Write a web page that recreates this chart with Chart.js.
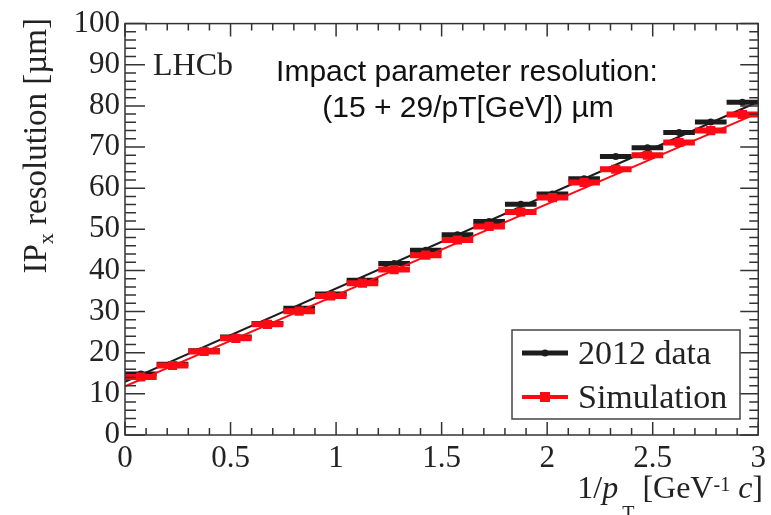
<!DOCTYPE html>
<html>
<head>
<meta charset="utf-8">
<script src="https://cdn.jsdelivr.net/npm/chart.js@4/dist/chart.umd.min.js"></script>
<style>
  html, body { margin: 0; padding: 0; background: #fff; }
  #wrap { width: 771px; height: 515px; }
</style>
</head>
<body>
<div id="wrap"><canvas id="c"></canvas></div>
<script>
// bin centres in 1/pT [GeV^-1 c], half bin width 0.075
const BIN_CENTERS = [0.075, 0.225, 0.375, 0.525, 0.675, 0.825, 0.975, 1.125, 1.275, 1.425,
                     1.575, 1.725, 1.875, 2.025, 2.175, 2.325, 2.475, 2.625, 2.775, 2.925];
const BIN_HALF = [0.075, 0.075, 0.075, 0.075, 0.075, 0.075, 0.075, 0.075, 0.075, 0.075,
                  0.075, 0.075, 0.075, 0.075, 0.075, 0.075, 0.075, 0.075, 0.075, 0.075];
const DATA_2012 = [14.8, 17.2, 20.5, 23.8, 27.1, 30.8, 34.3, 37.6, 41.7, 44.9,
                   48.7, 51.9, 56.1, 58.6, 62.3, 67.7, 69.8, 73.5, 76.1, 80.9];
const SIMULATION = [14.1, 16.9, 20.3, 23.5, 26.9, 30.1, 33.8, 36.9, 40.2, 43.7,
                    47.4, 50.7, 54.2, 57.7, 61.4, 64.6, 68.0, 71.1, 74.0, 77.9];
// straight-line fits, evaluated at the axis ends
const FIT_X = [0, 3];
const FIT_2012 = [12.9, 81.0];
const FIT_SIM = [11.8, 78.3];
const SERIES_LABELS = ['2012 data', 'Simulation'];
const X_TICKS = [0, 0.5, 1, 1.5, 2, 2.5, 3];
const Y_TICKS = [0, 10, 20, 30, 40, 50, 60, 70, 80, 90, 100];

const BLACK = '#1c1c1c';
const RED = '#ff0a14';
const SERIF = '"Liberation Serif", "DejaVu Serif", serif';
const SANS = '"Liberation Sans", Arial, sans-serif';

function points(ys) {
  return BIN_CENTERS.map((x, i) => ({ x: x, y: ys[i] }));
}

// horizontal error bars: a segment per bin, separated by gaps
function errBars(ys) {
  const out = [];
  BIN_CENTERS.forEach((x, i) => {
    out.push({ x: x - BIN_HALF[i], y: ys[i] });
    out.push({ x: x + BIN_HALF[i], y: ys[i] });
    out.push({ x: x, y: null });
  });
  return out;
}

function fitLine(ys) {
  return FIT_X.map((x, i) => ({ x: x, y: ys[i] }));
}

function drawRuns(ctx, runs, x, y, align) {
  let w = 0;
  runs.forEach(r => { ctx.font = r.font; w += ctx.measureText(r.t).width; });
  let cx = align === 'right' ? x - w : (align === 'center' ? x - w / 2 : x);
  ctx.textAlign = 'left';
  ctx.textBaseline = 'alphabetic';
  runs.forEach(r => {
    ctx.font = r.font;
    ctx.fillText(r.t, cx, y + (r.dy || 0));
    cx += ctx.measureText(r.t).width;
  });
}

const rootDecor = {
  id: 'rootDecor',
  afterDraw(chart) {
    const { ctx, chartArea: a, scales: { x, y } } = chart;
    ctx.save();
    // frame
    ctx.strokeStyle = '#333';
    ctx.lineWidth = 1.5;
    ctx.strokeRect(a.left, a.top, a.right - a.left, a.bottom - a.top);
    // inward ticks on all four sides
    ctx.beginPath();
    for (let i = 0; i <= 30; i++) {
      const px = x.getPixelForValue(i / 10);
      const len = i % 5 === 0 ? 13 : 7;
      ctx.moveTo(px, a.bottom); ctx.lineTo(px, a.bottom - len);
      ctx.moveTo(px, a.top); ctx.lineTo(px, a.top + len);
    }
    for (let i = 0; i <= 50; i++) {
      const py = y.getPixelForValue(i * 2);
      const major = i % 5 === 0;
      ctx.moveTo(a.left, py); ctx.lineTo(a.left + (major ? 20 : 11), py);
      ctx.moveTo(a.right, py); ctx.lineTo(a.right - (major ? 18 : 9), py);
    }
    ctx.stroke();

    // axis titles
    ctx.fillStyle = '#222';
    ctx.save();
    ctx.translate(46, 18);
    ctx.rotate(-Math.PI / 2);
    drawRuns(ctx, [
      { t: 'IP', font: '33px ' + SERIF },
      { t: 'x', font: '22px ' + SERIF, dy: 7 },
      { t: ' resolution [\u00b5m]', font: '33px ' + SERIF }
    ], 0, 0, 'right');
    ctx.restore();
    drawRuns(ctx, [
      { t: '1/', font: '32px ' + SERIF },
      { t: 'p', font: 'italic 32px ' + SERIF },
      { t: ' ', font: '16px ' + SERIF },
      { t: 'T', font: '20px ' + SERIF, dy: 22 },
      { t: ' [GeV', font: '32px ' + SERIF },
      { t: '-1', font: '20px ' + SERIF, dy: -7 },
      { t: ' ', font: '32px ' + SERIF },
      { t: 'c', font: 'italic 32px ' + SERIF },
      { t: ']', font: '32px ' + SERIF }
    ], 763, 498, 'right');

    // labels inside the frame
    drawRuns(ctx, [{ t: 'LHCb', font: '32px ' + SERIF }], 153, 75, 'left');
    ctx.fillStyle = '#111';
    drawRuns(ctx, [{ t: 'Impact parameter resolution:', font: '30px ' + SANS }], 467, 81, 'center');
    drawRuns(ctx, [{ t: '(15 + 29/pT[GeV]) \u00b5m', font: '30px ' + SANS }], 468, 117, 'center');

    // legend box
    ctx.fillStyle = '#fff';
    ctx.fillRect(512, 330, 228, 89);
    ctx.strokeStyle = '#444';
    ctx.lineWidth = 1.5;
    ctx.strokeRect(512, 330, 228, 89);
    const rows = [
      { label: SERIES_LABELS[0], color: BLACK, y: 353, w: 5, mark: 'circle' },
      { label: SERIES_LABELS[1], color: RED, y: 397, w: 4, mark: 'rect' }
    ];
    rows.forEach(r => {
      ctx.strokeStyle = r.color;
      ctx.lineWidth = r.w;
      ctx.beginPath(); ctx.moveTo(522, r.y); ctx.lineTo(568, r.y); ctx.stroke();
      ctx.fillStyle = r.color;
      if (r.mark === 'circle') {
        ctx.beginPath(); ctx.arc(545, r.y, 3.5, 0, Math.PI * 2); ctx.fill();
      } else {
        ctx.fillRect(540, r.y - 5, 10, 10);
      }
      ctx.fillStyle = '#222';
      drawRuns(ctx, [{ t: r.label, font: '34px ' + SERIF }], 578, r.y + 11, 'left');
    });
    ctx.restore();
  }
};

new Chart(document.getElementById('c'), {
  type: 'scatter',
  data: {
    datasets: [
      { label: SERIES_LABELS[1], data: points(SIMULATION), showLine: false, pointStyle: 'rect',
        pointRadius: 6.5, backgroundColor: RED, borderColor: RED, borderWidth: 0, order: 1 },
      { label: 'sim bars', data: errBars(SIMULATION), showLine: true, spanGaps: false, pointRadius: 0,
        borderColor: RED, borderWidth: 6, borderCapStyle: 'butt', order: 2 },
      { label: 'sim fit', data: fitLine(FIT_SIM), showLine: true, pointRadius: 0,
        borderColor: RED, borderWidth: 2, order: 3 },
      { label: SERIES_LABELS[0], data: points(DATA_2012), showLine: false, pointStyle: 'circle',
        pointRadius: 3.5, backgroundColor: BLACK, borderColor: BLACK, borderWidth: 0, order: 4 },
      { label: 'data bars', data: errBars(DATA_2012), showLine: true, spanGaps: false, pointRadius: 0,
        borderColor: BLACK, borderWidth: 5, borderCapStyle: 'butt', order: 5 },
      { label: 'data fit', data: fitLine(FIT_2012), showLine: true, pointRadius: 0,
        borderColor: BLACK, borderWidth: 2, order: 6 }
    ]
  },
  options: {
    responsive: true,
    maintainAspectRatio: false,
    animation: false,
    layout: { padding: { left: 0, right: 8, top: 20, bottom: 0 } },
    scales: {
      x: {
        type: 'linear', min: 0, max: 3,
        afterFit: s => { s.height = 80; },
        afterBuildTicks: s => { s.ticks = X_TICKS.map(v => ({ value: v })); },
        grid: { display: false, drawTicks: false },
        border: { display: false },
        ticks: { padding: 5, color: '#222', font: { family: SERIF, size: 31 }, maxRotation: 0,
                 callback: v => String(v) }
      },
      y: {
        min: 0, max: 100,
        afterFit: s => { s.width = 125; },
        afterBuildTicks: s => { s.ticks = Y_TICKS.map(v => ({ value: v })); },
        grid: { display: false, drawTicks: false },
        border: { display: false },
        ticks: { padding: 5, color: '#222', font: { family: SERIF, size: 31 },
                 callback: v => String(v) }
      }
    },
    plugins: { legend: { display: false }, tooltip: { enabled: false } }
  },
  plugins: [rootDecor]
});
</script>
</body>
</html>
